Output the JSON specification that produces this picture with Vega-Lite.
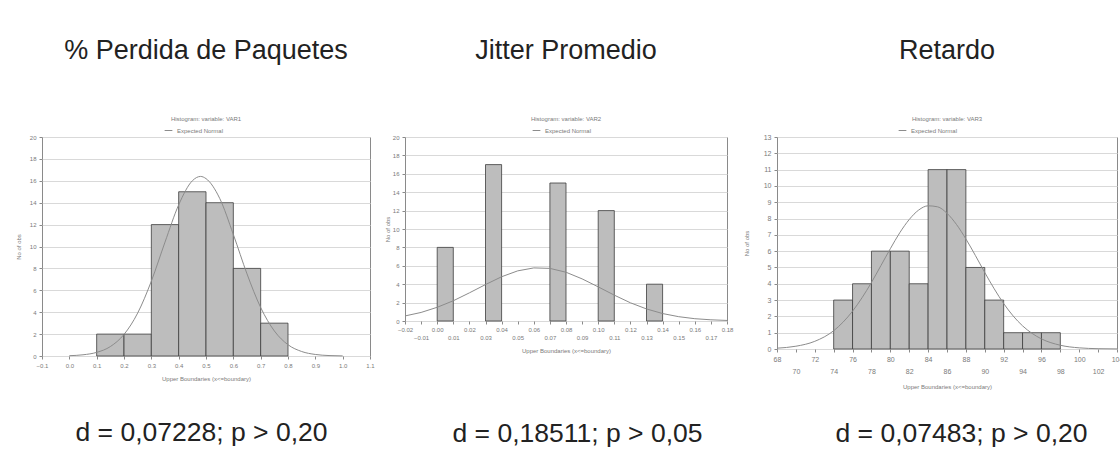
{
  "$schema": "https://vega.github.io/schema/vega-lite/v6.json",
  "background": "white",
  "padding": {"left": 14, "top": 36, "right": 0, "bottom": 0},
  "spacing": 8,
  "resolve": {"scale": {"color": "independent"}, "legend": {"color": "independent"}},
  "datasets": {
    "bars1": [
      {"lo": 0.1, "hi": 0.2, "n": 2}, {"lo": 0.2, "hi": 0.3, "n": 2}, {"lo": 0.3, "hi": 0.4, "n": 12},
      {"lo": 0.4, "hi": 0.5, "n": 15}, {"lo": 0.5, "hi": 0.6, "n": 14}, {"lo": 0.6, "hi": 0.7, "n": 8},
      {"lo": 0.7, "hi": 0.8, "n": 3}
    ],
    "curve1": [
      {"x": 0.0, "y": 0.03}, {"x": 0.05, "y": 0.11}, {"x": 0.1, "y": 0.33}, {"x": 0.15, "y": 0.86},
      {"x": 0.2, "y": 1.97}, {"x": 0.25, "y": 3.92}, {"x": 0.3, "y": 6.83}, {"x": 0.35, "y": 10.4},
      {"x": 0.4, "y": 13.8}, {"x": 0.45, "y": 16.0}, {"x": 0.48, "y": 16.4}, {"x": 0.5, "y": 16.2},
      {"x": 0.55, "y": 14.4}, {"x": 0.6, "y": 11.1}, {"x": 0.65, "y": 7.5}, {"x": 0.7, "y": 4.43},
      {"x": 0.75, "y": 2.29}, {"x": 0.8, "y": 1.03}, {"x": 0.85, "y": 0.41}, {"x": 0.9, "y": 0.14},
      {"x": 0.95, "y": 0.04}, {"x": 1.0, "y": 0.01}
    ],
    "bars2": [
      {"lo": 0.0, "hi": 0.01, "n": 8}, {"lo": 0.03, "hi": 0.04, "n": 17}, {"lo": 0.07, "hi": 0.08, "n": 15},
      {"lo": 0.1, "hi": 0.11, "n": 12}, {"lo": 0.13, "hi": 0.14, "n": 4}
    ],
    "curve2": [
      {"x": -0.02, "y": 0.55}, {"x": -0.01, "y": 0.93}, {"x": 0.0, "y": 1.49}, {"x": 0.01, "y": 2.2},
      {"x": 0.02, "y": 3.06}, {"x": 0.03, "y": 3.96}, {"x": 0.04, "y": 4.81}, {"x": 0.05, "y": 5.45},
      {"x": 0.06, "y": 5.77}, {"x": 0.07, "y": 5.72}, {"x": 0.08, "y": 5.3}, {"x": 0.09, "y": 4.58},
      {"x": 0.1, "y": 3.71}, {"x": 0.11, "y": 2.81}, {"x": 0.12, "y": 1.98}, {"x": 0.13, "y": 1.31},
      {"x": 0.14, "y": 0.81}, {"x": 0.15, "y": 0.47}, {"x": 0.16, "y": 0.25}, {"x": 0.17, "y": 0.13},
      {"x": 0.18, "y": 0.06}
    ],
    "bars3": [
      {"lo": 74, "hi": 76, "n": 3}, {"lo": 76, "hi": 78, "n": 4}, {"lo": 78, "hi": 80, "n": 6},
      {"lo": 80, "hi": 82, "n": 6}, {"lo": 82, "hi": 84, "n": 4}, {"lo": 84, "hi": 86, "n": 11},
      {"lo": 86, "hi": 88, "n": 11}, {"lo": 88, "hi": 90, "n": 5}, {"lo": 90, "hi": 92, "n": 3},
      {"lo": 92, "hi": 94, "n": 1}, {"lo": 94, "hi": 96, "n": 1}, {"lo": 96, "hi": 98, "n": 1}
    ],
    "curve3": [
      {"x": 68, "y": 0.05}, {"x": 70, "y": 0.17}, {"x": 72, "y": 0.47}, {"x": 74, "y": 1.12},
      {"x": 75, "y": 1.65}, {"x": 76, "y": 2.32}, {"x": 77, "y": 3.14}, {"x": 78, "y": 4.08},
      {"x": 79, "y": 5.11}, {"x": 80, "y": 6.15}, {"x": 81, "y": 7.13}, {"x": 82, "y": 7.94},
      {"x": 83, "y": 8.52}, {"x": 84, "y": 8.78}, {"x": 85, "y": 8.72}, {"x": 86, "y": 8.32},
      {"x": 87, "y": 7.64}, {"x": 88, "y": 6.75}, {"x": 89, "y": 5.74}, {"x": 90, "y": 4.69},
      {"x": 91, "y": 3.69}, {"x": 92, "y": 2.79}, {"x": 93, "y": 2.03}, {"x": 94, "y": 1.42},
      {"x": 95, "y": 0.96}, {"x": 96, "y": 0.62}, {"x": 98, "y": 0.23}, {"x": 100, "y": 0.07},
      {"x": 102, "y": 0.02}, {"x": 104, "y": 0.005}
    ]
  },
  "config": {
    "font": "Liberation Sans",
    "view": {"stroke": "#8a8a8a", "strokeWidth": 1},
    "axis": {
      "labelFont": "Liberation Sans", "labelFontSize": 6, "labelColor": "#7a7a7a",
      "titleFont": "Liberation Sans", "titleFontSize": 6, "titleFontWeight": "normal", "titleColor": "#7a7a7a",
      "tickColor": "#8a8a8a", "tickSize": 3, "domain": false, "gridColor": "#d9d9d9",
      "labelPadding": 3, "labelOverlap": false, "labelBound": false
    },
    "title": {
      "font": "Liberation Sans", "fontSize": 27, "fontWeight": "normal", "color": "#222222",
      "subtitleFont": "Liberation Sans", "subtitleFontSize": 6, "subtitleColor": "#7a7a7a",
      "anchor": "middle", "frame": "group"
    },
    "legend": {
      "labelFont": "Liberation Sans", "labelFontSize": 6, "labelColor": "#7a7a7a",
      "symbolStrokeWidth": 1, "symbolSize": 60, "padding": 0
    }
  },
  "hconcat": [
    {
      "title": {"text": "d = 0,07228; p > 0,20", "orient": "bottom", "anchor": "start", "frame": "bounds", "dx": 61, "offset": 38, "fontSize": 26.5},
      "resolve": {"scale": {"color": "independent"}, "legend": {"color": "independent"}},
      "vconcat": [
        {
          "width": 328,
          "height": 219,
          "title": {"text": "% Perdida de Paquetes", "subtitle": "Histogram: variable: VAR1", "subtitlePadding": 51, "offset": 3},
          "layer": [
            {
              "data": {"name": "bars1"},
              "mark": {"type": "rect", "fill": "#bdbdbd", "stroke": "#3d3d3d", "strokeWidth": 0.8},
              "encoding": {
                "x": {"field": "lo", "type": "quantitative", "scale": {"domain": [-0.1, 1.1], "nice": false, "zero": false},
                  "axis": {"title": "Upper Boundaries (x<=boundary)", "values": [-0.1, 0, 0.1, 0.2, 0.3, 0.4, 0.5, 0.6, 0.7, 0.8, 0.9, 1.0, 1.1],
                    "format": ".1f", "grid": false, "labelFlush": false, "labelOverlap": false, "labelPadding": 3, "titlePadding": 7}},
                "x2": {"field": "hi"},
                "y": {"field": "n", "type": "quantitative", "scale": {"domain": [0, 20], "nice": false},
                  "axis": {"title": "No of obs", "values": [0, 2, 4, 6, 8, 10, 12, 14, 16, 18, 20], "grid": true, "labelOverlap": false,
                    "minExtent": 14, "maxExtent": 14, "titlePadding": 7}}
              }
            },
            {
              "data": {"name": "curve1"},
              "mark": {"type": "line", "strokeWidth": 1, "interpolate": "monotone"},
              "encoding": {
                "x": {"field": "x", "type": "quantitative",
                  "axis": {"title": "Upper Boundaries (x<=boundary)", "values": [-0.1, 0, 0.1, 0.2, 0.3, 0.4, 0.5, 0.6, 0.7, 0.8, 0.9, 1.0, 1.1],
                    "format": ".1f", "grid": false, "labelFlush": false, "labelOverlap": false, "labelPadding": 3, "titlePadding": 7}},
                "y": {"field": "y", "type": "quantitative",
                  "axis": {"title": "No of obs", "values": [0, 2, 4, 6, 8, 10, 12, 14, 16, 18, 20], "grid": true, "labelOverlap": false,
                    "minExtent": 14, "maxExtent": 14, "titlePadding": 7}},
                "color": {"datum": "Expected Normal", "type": "nominal", "scale": {"range": ["#8c8c8c"]},
                  "legend": {"title": null, "orient": "none", "legendX": 122, "legendY": -11}}
              }
            }
          ]
        }
      ]
    },
    {
      "title": {"text": "d = 0,18511; p > 0,05", "orient": "bottom", "anchor": "start", "frame": "bounds", "dx": 69, "offset": 67, "fontSize": 26.5},
      "resolve": {"scale": {"color": "independent"}, "legend": {"color": "independent"}},
      "vconcat": [
        {
          "width": 322,
          "height": 184,
          "title": {"text": "Jitter Promedio", "subtitle": "Histogram: variable: VAR2", "subtitlePadding": 51, "offset": 3},
          "layer": [
            {
              "data": {"name": "bars2"},
              "mark": {"type": "rect", "fill": "#bdbdbd", "stroke": "#3d3d3d", "strokeWidth": 0.8},
              "encoding": {
                "x": {"field": "lo", "type": "quantitative", "scale": {"domain": [-0.02, 0.18], "nice": false, "zero": false},
                  "axis": {"title": "Upper Boundaries (x<=boundary)",
                    "values": [-0.02, -0.01, 0, 0.01, 0.02, 0.03, 0.04, 0.05, 0.06, 0.07, 0.08, 0.09, 0.1, 0.11, 0.12, 0.13, 0.14, 0.15, 0.16, 0.17, 0.18],
                    "format": ".2f", "labelExpr": "round(datum.value*100) % 2 == 0 ? datum.label : ['', datum.label]",
                    "grid": false, "labelFlush": false, "labelOverlap": false, "labelPadding": 2, "titlePadding": 7}},
                "x2": {"field": "hi"},
                "y": {"field": "n", "type": "quantitative", "scale": {"domain": [0, 20], "nice": false},
                  "axis": {"title": "No of obs", "values": [0, 2, 4, 6, 8, 10, 12, 14, 16, 18, 20], "grid": true, "labelOverlap": false,
                    "minExtent": 14, "maxExtent": 14, "titlePadding": 1}}
              }
            },
            {
              "data": {"name": "curve2"},
              "mark": {"type": "line", "strokeWidth": 1},
              "encoding": {
                "x": {"field": "x", "type": "quantitative",
                  "axis": {"title": "Upper Boundaries (x<=boundary)",
                    "values": [-0.02, -0.01, 0, 0.01, 0.02, 0.03, 0.04, 0.05, 0.06, 0.07, 0.08, 0.09, 0.1, 0.11, 0.12, 0.13, 0.14, 0.15, 0.16, 0.17, 0.18],
                    "format": ".2f", "labelExpr": "round(datum.value*100) % 2 == 0 ? datum.label : ['', datum.label]",
                    "grid": false, "labelFlush": false, "labelOverlap": false, "labelPadding": 2, "titlePadding": 7}},
                "y": {"field": "y", "type": "quantitative",
                  "axis": {"title": "No of obs", "values": [0, 2, 4, 6, 8, 10, 12, 14, 16, 18, 20], "grid": true, "labelOverlap": false,
                    "minExtent": 14, "maxExtent": 14, "titlePadding": 1}},
                "color": {"datum": "Expected Normal", "type": "nominal", "scale": {"range": ["#8c8c8c"]},
                  "legend": {"title": null, "orient": "none", "legendX": 127, "legendY": -11}}
              }
            }
          ]
        }
      ]
    },
    {
      "title": {"text": "d = 0,07483; p > 0,20", "orient": "bottom", "anchor": "start", "frame": "bounds", "dx": 93, "offset": 31, "fontSize": 26.5},
      "resolve": {"scale": {"color": "independent"}, "legend": {"color": "independent"}},
      "vconcat": [
        {
          "width": 340,
          "height": 212,
          "title": {"text": "Retardo", "subtitle": "Histogram: variable: VAR3", "subtitlePadding": 51, "offset": 3},
          "layer": [
            {
              "data": {"name": "bars3"},
              "mark": {"type": "rect", "fill": "#bdbdbd", "stroke": "#3d3d3d", "strokeWidth": 0.8},
              "encoding": {
                "x": {"field": "lo", "type": "quantitative", "scale": {"domain": [68, 104], "nice": false, "zero": false},
                  "axis": {"title": "Upper Boundaries (x<=boundary)",
                    "values": [68, 70, 72, 74, 76, 78, 80, 82, 84, 86, 88, 90, 92, 94, 96, 98, 100, 102, 104],
                    "labelExpr": "(datum.value/2) % 2 == 0 ? datum.label : ['', datum.label]", "labelFontSize": 7, "labelLineHeight": 12,
                    "grid": false, "labelFlush": false, "labelOverlap": false, "labelPadding": 3, "titlePadding": 9}},
                "x2": {"field": "hi"},
                "y": {"field": "n", "type": "quantitative", "scale": {"domain": [0, 13], "nice": false},
                  "axis": {"title": "No of obs", "values": [0, 1, 2, 3, 4, 5, 6, 7, 8, 9, 10, 11, 12, 13], "grid": true, "labelOverlap": false,
                    "labelFontSize": 7, "minExtent": 14, "maxExtent": 14, "titlePadding": 14}}
              }
            },
            {
              "data": {"name": "curve3"},
              "mark": {"type": "line", "strokeWidth": 1, "interpolate": "monotone"},
              "encoding": {
                "x": {"field": "x", "type": "quantitative",
                  "axis": {"title": "Upper Boundaries (x<=boundary)",
                    "values": [68, 70, 72, 74, 76, 78, 80, 82, 84, 86, 88, 90, 92, 94, 96, 98, 100, 102, 104],
                    "labelExpr": "(datum.value/2) % 2 == 0 ? datum.label : ['', datum.label]", "labelFontSize": 7, "labelLineHeight": 12,
                    "grid": false, "labelFlush": false, "labelOverlap": false, "labelPadding": 3, "titlePadding": 9}},
                "y": {"field": "y", "type": "quantitative",
                  "axis": {"title": "No of obs", "values": [0, 1, 2, 3, 4, 5, 6, 7, 8, 9, 10, 11, 12, 13], "grid": true, "labelOverlap": false,
                    "labelFontSize": 7, "minExtent": 14, "maxExtent": 14, "titlePadding": 14}},
                "color": {"datum": "Expected Normal", "type": "nominal", "scale": {"range": ["#8c8c8c"]},
                  "legend": {"title": null, "orient": "none", "legendX": 121, "legendY": -11}}
              }
            }
          ]
        }
      ]
    }
  ]
}
